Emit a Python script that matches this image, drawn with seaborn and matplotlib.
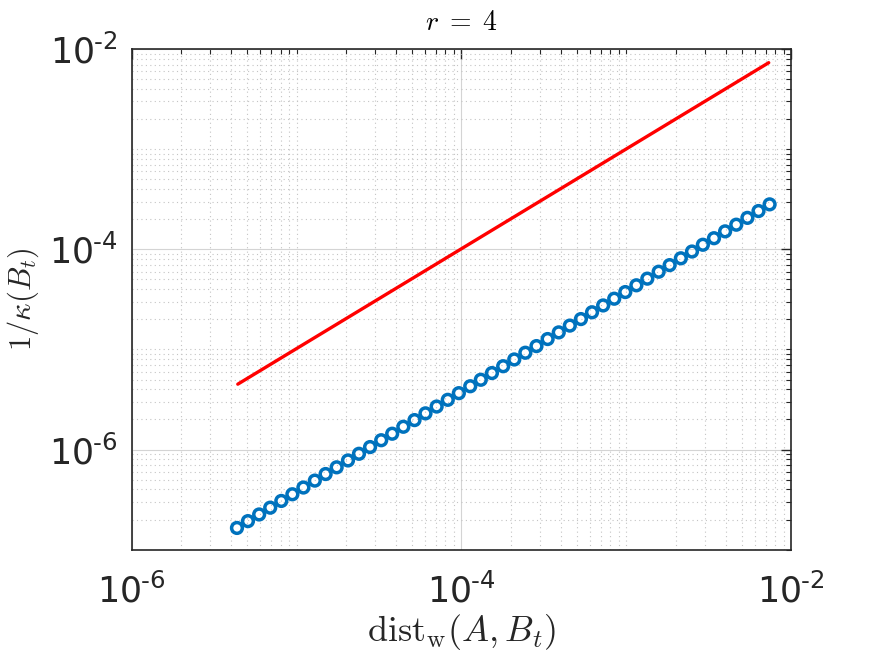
import matplotlib
matplotlib.use("Agg")
import matplotlib.pyplot as plt
import matplotlib.ticker as mticker
import numpy as np
import pandas as pd
import seaborn as sns

# Valeurs
dist_w = [4.35e-6, 5.07e-6, 5.93e-6, 6.92e-6, 8.08e-6, 9.43e-6, 1.10e-5, 1.29e-5,
          1.50e-5, 1.75e-5, 2.05e-5, 2.39e-5, 2.79e-5, 3.26e-5, 3.80e-5, 4.44e-5,
          5.19e-5, 6.05e-5, 7.07e-5, 8.26e-5, 9.64e-5, 1.13e-4, 1.31e-4, 1.53e-4,
          1.79e-4, 2.09e-4, 2.44e-4, 2.85e-4, 3.33e-4, 3.89e-4, 4.54e-4, 5.30e-4,
          6.19e-4, 7.23e-4, 8.44e-4, 9.85e-4, 1.15e-3, 1.34e-3, 1.57e-3, 1.83e-3,
          2.14e-3, 2.50e-3, 2.91e-3, 3.40e-3, 3.97e-3, 4.64e-3, 5.42e-3, 6.33e-3,
          7.39e-3]
inv_kappa = [1.65e-7, 1.93e-7, 2.25e-7, 2.63e-7, 3.07e-7, 3.58e-7, 4.18e-7, 4.90e-7,
             5.70e-7, 6.65e-7, 7.79e-7, 9.08e-7, 1.06e-6, 1.24e-6, 1.44e-6, 1.69e-6,
             1.97e-6, 2.30e-6, 2.69e-6, 3.14e-6, 3.66e-6, 4.29e-6, 4.98e-6, 5.81e-6,
             6.80e-6, 7.94e-6, 9.27e-6, 1.08e-5, 1.27e-5, 1.48e-5, 1.73e-5, 2.01e-5,
             2.35e-5, 2.75e-5, 3.21e-5, 3.74e-5, 4.37e-5, 5.09e-5, 5.97e-5, 6.95e-5,
             8.13e-5, 9.50e-5, 1.11e-4, 1.29e-4, 1.51e-4, 1.76e-4, 2.06e-4, 2.41e-4,
             2.81e-4]
ref_x = [4.4e-6, 7.3e-3]
ref_y = [4.5e-6, 7.3e-3]

x_ticks = [1e-6, 1e-4, 1e-2]
y_ticks = [1e-6, 1e-4, 1e-2]

sns.set_style("white")
plt.rcParams["mathtext.fontset"] = "cm"
plt.rcParams["font.family"] = ["DejaVu Sans"]

df_pts = pd.DataFrame({"x": dist_w, "y": inv_kappa})
df_ref = pd.DataFrame({"x": ref_x, "y": ref_y})

fig = plt.figure(figsize=(8.75, 6.56), dpi=100)
ax = fig.add_axes([0.1505, 0.162, 0.7538, 0.7633])

sns.lineplot(data=df_ref, x="x", y="y", ax=ax, color="#ff0000", linewidth=2.4)
sns.scatterplot(data=df_pts, x="x", y="y", ax=ax, marker="o", s=60,
                facecolors="none", edgecolor="#0072BD", linewidth=2.5, zorder=3)

ax.set_xscale("log")
ax.set_yscale("log")
ax.set_xlim(1e-6, 1e-2)
ax.set_ylim(1e-7, 1e-2)

def fmt(v, pos=None):
    e = int(round(np.log10(v)))
    return r"$\mathregular{10^{\text{-}%d}}$" % abs(e)

ax.xaxis.set_major_locator(mticker.FixedLocator(x_ticks))
ax.yaxis.set_major_locator(mticker.FixedLocator(y_ticks))
ax.xaxis.set_major_formatter(mticker.FuncFormatter(fmt))
ax.yaxis.set_major_formatter(mticker.FuncFormatter(fmt))
ax.xaxis.set_minor_locator(mticker.LogLocator(base=10, subs=np.arange(1, 10), numticks=20))
ax.yaxis.set_minor_locator(mticker.LogLocator(base=10, subs=np.arange(1, 10), numticks=20))
ax.xaxis.set_minor_formatter(mticker.NullFormatter())
ax.yaxis.set_minor_formatter(mticker.NullFormatter())

ax.grid(which="major", color="#d4d4d4", linestyle="-", linewidth=0.8)
ax.grid(which="minor", color="#c4c4c4", linestyle=(0, (1, 3)), linewidth=0.8)
ax.set_axisbelow(True)

ax.tick_params(which="both", direction="in", top=True, right=True, colors="#262626")
ax.tick_params(which="major", length=7, width=1, labelsize=25)
ax.tick_params(which="minor", length=3.5, width=0.8)
ax.tick_params(axis="x", which="major", pad=17)
ax.tick_params(axis="y", which="major", pad=10)
for s in ax.spines.values():
    s.set_color("#262626")
    s.set_linewidth(1.2)

ax.set_xlabel(r"$\mathrm{dist}_\mathrm{w}(A,B_t)$", fontsize=26, color="#262626", labelpad=2)
ax.set_ylabel(r"$1/\kappa(B_t)$", fontsize=22, color="#262626", labelpad=6)
ax.set_title(r"$r\;=\;4$", fontsize=20, color="#000000", pad=14)

fig.savefig("out.png", dpi=100)
